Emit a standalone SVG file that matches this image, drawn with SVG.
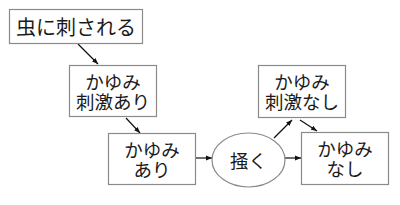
<svg xmlns="http://www.w3.org/2000/svg" width="400" height="205" viewBox="0 0 400 205">
<defs>
<marker id="ah" viewBox="0 0 10 10" refX="10" refY="5" markerWidth="6" markerHeight="6" markerUnits="userSpaceOnUse" orient="auto">
<path d="M0,1 L10,5 L0,9 z" fill="#111"/>
</marker>
<style>
.box{fill:#fff;stroke:#8a8a8a;stroke-width:1.2}
.t{font-family:"Noto Sans CJK JP","Noto Sans CJK SC",sans-serif;font-size:18.5px;fill:#1a1a1a;text-anchor:middle;dominant-baseline:central}
.c{stroke:#111;stroke-width:1.2;fill:none;marker-end:url(#ah)}
</style>
</defs>
<rect width="400" height="205" fill="#fff"/>
<g id="connectors">
<line class="c" x1="78" y1="44" x2="98" y2="64"/>
<line class="c" x1="126" y1="118" x2="140" y2="133"/>
<line class="c" x1="196" y1="158" x2="212" y2="158"/>
<line class="c" x1="274" y1="138" x2="292" y2="120"/>
<line class="c" x1="300" y1="120" x2="317" y2="131"/>
<line class="c" x1="285" y1="158" x2="301" y2="158"/>
</g>
<g id="n1">
<rect class="box" x="9.5" y="9.5" width="133" height="34"/>
<text class="t" x="76" y="26.5" style="font-size:20px">虫に刺される</text>
</g>
<g id="n2">
<rect class="box" x="69.5" y="65.5" width="87" height="51"/>
<text class="t" x="113" y="81">かゆみ</text>
<text class="t" x="113" y="101">刺激あり</text>
</g>
<g id="n3">
<rect class="box" x="108.5" y="133.5" width="87" height="51"/>
<text class="t" x="152" y="149">かゆみ</text>
<text class="t" x="152" y="169">あり</text>
</g>
<g id="n4">
<ellipse class="box" cx="248.5" cy="160" rx="36.5" ry="27"/>
<text class="t" x="248.5" y="160">掻く</text>
</g>
<g id="n5">
<rect class="box" x="258.5" y="65.5" width="87" height="52"/>
<text class="t" x="302" y="81">かゆみ</text>
<text class="t" x="302" y="101">刺激なし</text>
</g>
<g id="n6">
<rect class="box" x="301.5" y="132.5" width="87" height="52"/>
<text class="t" x="345" y="148">かゆみ</text>
<text class="t" x="345" y="168">なし</text>
</g>
</svg>
